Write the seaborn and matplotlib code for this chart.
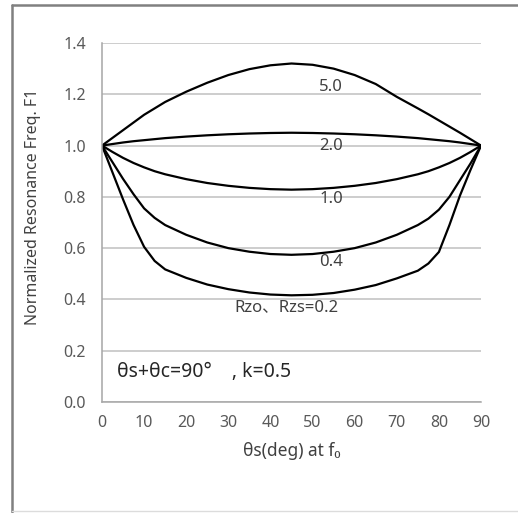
import matplotlib
matplotlib.use('Agg')
import matplotlib.pyplot as plt
from matplotlib.lines import Line2D
import seaborn as sns
import pandas as pd

# theta_s (deg) sample points
theta = [0, 2.5, 5, 7.5, 10, 12.5, 15, 20, 25, 30, 35, 40, 45,
         50, 55, 60, 65, 70, 75, 77.5, 80, 82.5, 85, 87.5, 90]

# normalized resonance freq F1 for each Rzo/Rzs
r50 = [1.0, 1.03, 1.06, 1.09, 1.12, 1.145, 1.17, 1.21, 1.245, 1.275, 1.298, 1.313, 1.32,
       1.315, 1.30, 1.275, 1.24, 1.19, 1.145, 1.122, 1.098, 1.074, 1.05, 1.025, 1.0]
r20 = [1.0, 1.006, 1.012, 1.017, 1.021, 1.025, 1.029, 1.035, 1.04, 1.044, 1.047, 1.049, 1.05,
       1.049, 1.047, 1.044, 1.04, 1.035, 1.029, 1.025, 1.021, 1.017, 1.012, 1.006, 1.0]
r10 = [1.0, 0.975, 0.952, 0.932, 0.915, 0.9, 0.888, 0.869, 0.854, 0.843, 0.835, 0.83, 0.828,
       0.83, 0.835, 0.843, 0.854, 0.869, 0.888, 0.9, 0.915, 0.932, 0.952, 0.975, 1.0]
r04 = [1.0, 0.935, 0.87, 0.81, 0.755, 0.718, 0.69, 0.652, 0.622, 0.6, 0.586, 0.577, 0.574,
       0.577, 0.586, 0.6, 0.622, 0.652, 0.69, 0.715, 0.75, 0.80, 0.865, 0.93, 1.0]
r02 = [1.0, 0.895, 0.79, 0.69, 0.605, 0.55, 0.517, 0.484, 0.458, 0.44, 0.427, 0.419, 0.416,
       0.418, 0.425, 0.438, 0.456, 0.482, 0.512, 0.54, 0.585, 0.69, 0.805, 0.905, 1.0]

series_names = ['5.0', '2.0', '1.0', '0.4', '0.2']
series_vals = [r50, r20, r10, r04, r02]

# curve labels (text, x, y)
curve_labels = [('5.0', 54.4, 1.23), ('2.0', 54.4, 0.998), ('1.0', 54.4, 0.792),
                ('0.4', 54.4, 0.547), ('Rzo、Rzs=0.2', 43.8, 0.37)]

df = pd.concat([pd.DataFrame({'theta': theta, 'F1': v, 'R': n})
                for n, v in zip(series_names, series_vals)], ignore_index=True)

sns.set_theme(style='white')
plt.rcParams['font.family'] = ['Noto Sans', 'Noto Sans CJK JP', 'DejaVu Sans']

fig = plt.figure(figsize=(5.18, 5.13), dpi=100)
ax = fig.add_axes([0.1969, 0.2164, 0.7317, 0.6998])

sns.lineplot(data=df, x='theta', y='F1', hue='R', units='R', estimator=None,
             palette=['black'] * 5, linewidth=1.6, legend=False, ax=ax)

ax.set_xlim(0, 90)
ax.set_ylim(0, 1.4)
ax.set_xticks(range(0, 91, 10))
ax.set_yticks([0.0, 0.2, 0.4, 0.6, 0.8, 1.0, 1.2, 1.4])
ax.set_yticklabels([f'{v:.1f}' for v in ax.get_yticks()])
ax.yaxis.grid(True, color='#c0c0c0', linewidth=1.1)
ax.set_axisbelow(True)
for s in ['top', 'right']:
    ax.spines[s].set_visible(False)
for s in ['left', 'bottom']:
    ax.spines[s].set_color('#a6a6a6')
    ax.spines[s].set_linewidth(1.1)
ax.tick_params(axis='both', direction='out', length=3.5, width=1.0, color='#a6a6a6',
               labelsize=11.5, labelcolor='#595959', pad=6)
ax.tick_params(axis='y', length=3.5, pad=8)

ax.set_xlabel('θs(deg) at f₀', fontsize=12.5, color='#404040', labelpad=8)
ax.set_ylabel('Normalized Resonance Freq. F1', fontsize=11.5, color='#404040')
ax.yaxis.set_label_coords(-0.16, 0.545)

for txt, x, y in curve_labels:
    ax.text(x, y, txt, fontsize=12, color='#404040', ha='center', va='center')

ax.text(3.5, 0.117, 'θs+θc=90°    , k=0.5', fontsize=14, color='#262626',
        ha='left', va='center')

# outer chart frame
fx = 12 / 518
fig.add_artist(Line2D([fx, fx], [0.002, 0.990], color='#808080', linewidth=1.8))
fig.add_artist(Line2D([fx, 1.0], [0.990, 0.990], color='#808080', linewidth=1.8))
fig.add_artist(Line2D([fx, 1.0], [0.003, 0.003], color='#dcdcdc', linewidth=1.0))

fig.savefig('out.png', dpi=100, facecolor='white')
